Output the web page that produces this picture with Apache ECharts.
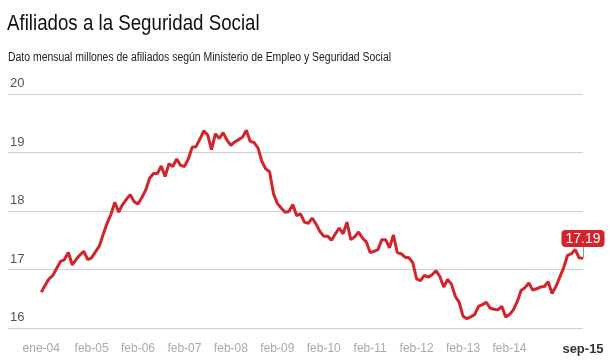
<!DOCTYPE html>
<html><head><meta charset="utf-8">
<script src="https://cdn.jsdelivr.net/npm/echarts@6/dist/echarts.min.js"></script>
<style>html,body{margin:0;padding:0;background:#fff}#c{width:614px;height:361px}</style>
</head><body><div id="c"></div>
<script>
// Monthly labels ene-04 .. sep-15
const monthNames = ['ene','feb','mar','abr','may','jun','jul','ago','sep','oct','nov','dic'];
const months = [];
for (let y = 2004; y <= 2015; y++) for (let m = 0; m < 12; m++) {
  if (y === 2015 && m > 8) break;
  months.push(monthNames[m] + '-' + String(y).slice(2));
}
// Afiliados (millones)
const afiliados = [
16.61,16.73,16.84,16.90,17.02,17.14,17.17,17.29,17.08,17.17,17.25,17.31,
17.17,17.20,17.30,17.40,17.60,17.79,17.94,18.15,17.98,18.11,18.20,18.28,
18.16,18.12,18.23,18.36,18.56,18.64,18.64,18.77,18.59,18.81,18.76,18.89,
18.78,18.76,18.89,19.09,19.10,19.23,19.37,19.30,19.05,19.32,19.24,19.34,
19.21,19.12,19.18,19.22,19.26,19.38,19.19,19.17,19.08,18.85,18.72,18.67,
18.30,18.13,18.05,17.98,17.99,18.11,17.92,17.95,17.81,17.79,17.88,17.78,
17.65,17.57,17.57,17.50,17.61,17.71,17.61,17.81,17.51,17.56,17.64,17.54,
17.47,17.29,17.31,17.34,17.51,17.51,17.37,17.59,17.29,17.27,17.21,17.20,
17.12,16.84,16.81,16.90,16.87,16.91,16.98,16.88,16.70,16.83,16.75,16.54,
16.44,16.20,16.16,16.19,16.23,16.37,16.40,16.44,16.34,16.32,16.31,16.37,
16.19,16.23,16.31,16.45,16.64,16.69,16.77,16.65,16.67,16.70,16.71,16.79,
16.59,16.71,16.87,17.03,17.24,17.27,17.34,17.20,17.19
];
const xTickLabels = ['ene-04','feb-05','feb-06','feb-07','feb-08','feb-09','feb-10','feb-11','feb-12','feb-13','feb-14','sep-15'];
const yTicks = [16,17,18,19,20];
const titleText = 'Afiliados a la Seguridad Social';
const subtitleText = 'Dato mensual millones de afiliados según Ministerio de Empleo y Seguridad Social';

const xTickIdx = xTickLabels.map(l => months.indexOf(l));
const last = afiliados.length - 1;
const RED = '#d4242b';

const chart = echarts.init(document.getElementById('c'), null, {renderer: 'canvas'});
chart.setOption({
  animation: false,
  textStyle: {fontFamily: 'Liberation Sans'},
  graphic: [
    {type: 'text', left: 7, top: 13, scaleX: 0.85,
     style: {text: titleText, font: '22px "Liberation Sans"', fill: '#111'}},
    {type: 'text', left: 8, top: 52, scaleX: 0.87,
     style: {text: subtitleText, font: '12px "Liberation Sans"', fill: '#222'}}
  ],
  grid: {left: 8, right: 31, top: 94, bottom: 33, containLabel: false},
  xAxis: {
    type: 'value', min: -8.6, max: last,
    axisLine: {show: false}, axisTick: {show: false}, splitLine: {show: false},
    axisLabel: {
      customValues: xTickIdx, margin: 15, fontSize: 12, color: '#aaa',
      formatter: v => v === last ? '{b|' + months[v] + '}' : months[v],
      rich: {b: {fontWeight: 'bold', color: '#333', fontSize: 13}}
    }
  },
  yAxis: {
    type: 'value', min: yTicks[0], max: yTicks[yTicks.length - 1], interval: 1,
    axisLine: {show: false}, axisTick: {show: false},
    splitLine: {lineStyle: {color: '#d0d0d0', width: 1}},
    axisLabel: {inside: true, margin: 2, align: 'left', verticalAlign: 'bottom',
      padding: [0, 0, 4, 0], fontSize: 13, color: '#555'}
  },
  series: [{
    type: 'line', data: afiliados.map((v, i) => [i, v]), showSymbol: false, symbol: 'none',
    lineStyle: {color: RED, width: 3}, itemStyle: {color: RED},
    markLine: {silent: true, symbol: 'none', label: {show: false},
      lineStyle: {color: '#8899aa', width: 1, type: 'solid'},
      data: [[{coord: [last, afiliados[last]]}, {coord: [last, afiliados[last] + 0.2]}]]},
    markPoint: {silent: true, symbol: 'circle', symbolSize: 1,
      itemStyle: {color: 'rgba(0,0,0,0)'},
      data: [{coord: [last, afiliados[last]], value: afiliados[last]}],
      label: {show: true, position: 'top', distance: 11,
        formatter: p => Number(p.value).toFixed(2), color: '#fff', backgroundColor: RED,
        borderRadius: 4, padding: [2, 4, 1, 4], fontSize: 14, fontFamily: 'Liberation Sans'}}
  }]
});
</script></body></html>
